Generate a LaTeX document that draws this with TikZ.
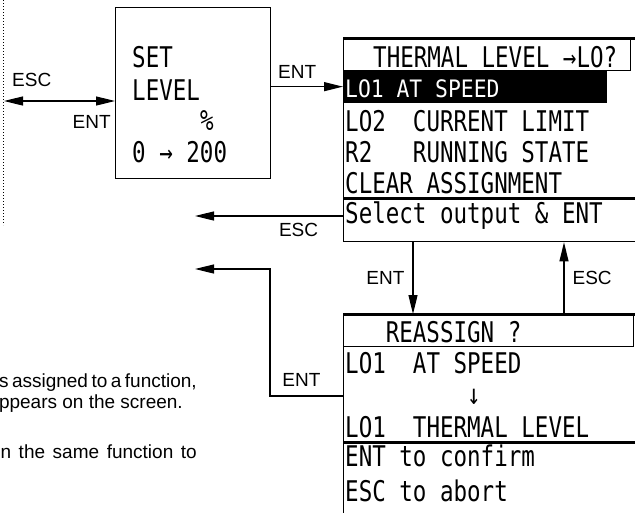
\documentclass[tikz,border=0pt]{standalone}
\usepackage{fontspec}
\setmainfont{Liberation Sans}
\newfontfamily\lcdfont[FakeStretch=0.79]{DejaVu Sans Mono}
\newfontfamily\lcdsmallfont[FakeStretch=0.89]{DejaVu Sans Mono}
\usetikzlibrary{arrows.meta, positioning, calc}

\begin{document}
\begin{tikzpicture}[
    x=1pt, y=-1pt,
    screen/.style={draw, rectangle, line width=1.3pt, inner sep=0pt, anchor=north west},
    rule/.style={line width=3pt},
    dotline/.style={line width=0.9pt, dash pattern=on 1pt off 2pt},
    lcd/.style={font=\lcdfont\fontsize{28.5}{30}\selectfont, inner sep=0pt, anchor=base west},
    lcdsmall/.style={font=\lcdsmallfont\fontsize{24}{26}\selectfont, inner sep=0pt,
      anchor=base west, text=white},
    lbl/.style={font=\fontsize{19}{21}\selectfont, inner sep=0pt},
    para/.style={font=\fontsize{19}{21}\selectfont, inner sep=0pt, anchor=base east},
    arrow/.style={line width=1.2pt, -{Triangle[length=19pt, width=9pt]}},
    dblarrow/.style={line width=1.2pt,
      {Triangle[length=19pt, width=9pt]}-{Triangle[length=19pt, width=9pt]}}
]
\useasboundingbox (0,0) rectangle (635,512);
\clip (0,0) rectangle (635,512);

% Previous screen (cut off)
\coordinate (prevtop) at (3,0);
\coordinate (prevbot) at (3,225);
\coordinate (prev) at (4,101);
\draw[dotline] (prevtop) -- (prevbot);

% Set level screen
\node[screen, minimum width=155pt, minimum height=171pt] (setlcd) at (115,7) {};
\node[lcd] (setl1) at (132,67) {SET};
\node[lcd] (setl2) at (132,100) {LEVEL};
\node[lcd] (setl3) at (200,130) {\%};
\node[lcd] (setl4) at (132,162) {0 → 200};

% Thermal level screen
\node[screen, minimum width=317pt, minimum height=203pt] (thermal) at (343,38) {};
\node[screen, minimum width=287pt, minimum height=32pt] (thermtitle) at (343,38) {};
\node[screen, fill, minimum width=263pt, minimum height=32pt] (selrow) at (343,70) {};
\draw[rule] (thermal.north west) -- (thermal.north east);
\coordinate (thermsep) at (343,198);
\draw[rule] (thermsep) -- (thermsep -| thermal.east);
\node[lcd] (therml0) at (373,67) {THERMAL LEVEL →LO?};
\node[lcdsmall] (therml1) at (345,97) {LO1 AT SPEED};
\node[lcd] (therml2) at (345,131) {LO2~~CURRENT LIMIT};
\node[lcd] (therml3) at (345,162) {R2~~~RUNNING STATE};
\node[lcd] (therml4) at (345,193) {CLEAR ASSIGNMENT};
\node[lcd] (therml5) at (345,223) {Select output \& ENT};

% Reassign screen
\node[screen, minimum width=317pt, minimum height=226pt] (reassign) at (343,314) {};
\node[screen, minimum width=290pt, minimum height=32pt] (reatitle) at (343,314) {};
\draw[rule] (reassign.north west) -- (reassign.north east);
\coordinate (reasep) at (343,442);
\draw[rule] (reasep) -- (reasep -| reassign.east);
\node[lcd] (real0) at (385.6,342) {REASSIGN ?};
\node[lcd] (real1) at (345,373) {LO1~~AT SPEED};
\node[lcd] (real2) at (467,404) {↓};
\node[lcd] (real3) at (345,437) {LO1~~THERMAL LEVEL};
\node[lcd] (real4) at (345,466) {ENT to confirm};
\node[lcd] (real5) at (345,501) {ESC to abort};

% Text (cut off)
\node[para] (note1) at (197,387) {\spaceskip=3.5pt s assigned to a function,};
\node[para] (note2) at (183,408) {ppears on the screen.};
\node[para] (note3) at (197,458) {\spaceskip=7.6pt n the same function to};

% Arrows
\draw[dblarrow] (prev) -- (prev -| setlcd.west)
  node[lbl, pos=0.25, above=14pt] (escl1) {ESC}
  node[lbl, pos=0.79, below=14pt] (entl1) {ENT};
\draw[arrow] (setlcd.east |- selrow.west) -- (selrow.west)
  node[lbl, pos=0.36, above=8pt] (entl2) {ENT};
\coordinate (escback) at (195,216);
\draw[arrow] (thermal.west |- escback) -- (escback)
  node[lbl, pos=0.3, below=7pt] (escl2) {ESC};
\coordinate (entx) at (413,0);
\coordinate (escx) at (564,0);
\draw[arrow] (thermal.south -| entx) -- (reassign.north -| entx)
  node[lbl, midway, left=8pt] (entl3) {ENT};
\draw[arrow] (reassign.north -| escx) -- (thermal.south -| escx)
  node[lbl, midway, right=8pt] (escl3) {ESC};
\coordinate (elbow) at (270,396);
\coordinate (entback) at (195,269);
\draw[arrow] (reassign.west |- elbow) -- node[lbl, pos=0.57, above=9pt] (entl4) {ENT}
  (elbow) |- (entback);

\end{tikzpicture}
\end{document}
